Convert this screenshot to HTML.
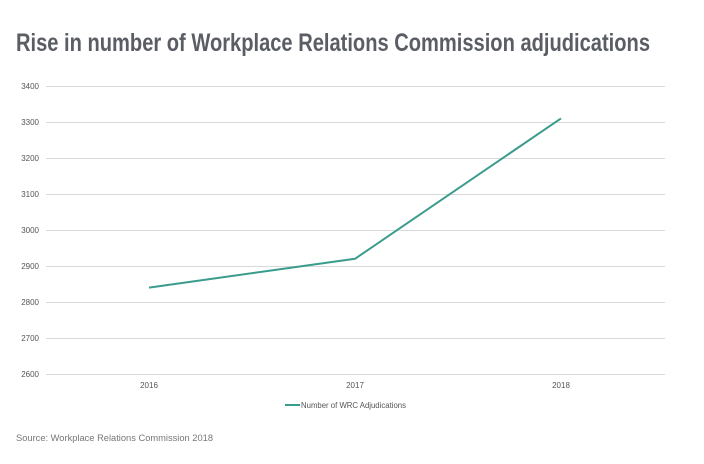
<!DOCTYPE html>
<html><head><style>body{margin:0;background:#fff}svg{display:block}</style></head>
<body>
<svg width="704" height="464" xmlns="http://www.w3.org/2000/svg" font-family="Liberation Sans, sans-serif">
<text x="16" y="51" font-size="25" font-weight="bold" fill="#5a5e64" textLength="634" lengthAdjust="spacingAndGlyphs">Rise in number of Workplace Relations Commission adjudications</text>
<g stroke="#d9d9d9" stroke-width="1">
<line x1="46" x2="665" y1="86.5" y2="86.5"/>
<line x1="46" x2="665" y1="122.5" y2="122.5"/>
<line x1="46" x2="665" y1="158.5" y2="158.5"/>
<line x1="46" x2="665" y1="194.5" y2="194.5"/>
<line x1="46" x2="665" y1="230.5" y2="230.5"/>
<line x1="46" x2="665" y1="266.5" y2="266.5"/>
<line x1="46" x2="665" y1="302.5" y2="302.5"/>
<line x1="46" x2="665" y1="338.5" y2="338.5"/>
<line x1="46" x2="665" y1="374.5" y2="374.5"/>
</g>
<g font-size="8" fill="#555" text-anchor="end">
<text x="39" y="89">3400</text><text x="39" y="125">3300</text><text x="39" y="161">3200</text>
<text x="39" y="197">3100</text><text x="39" y="233">3000</text><text x="39" y="269">2900</text>
<text x="39" y="305">2800</text><text x="39" y="341">2700</text><text x="39" y="377">2600</text>
</g>
<g font-size="8" fill="#555" text-anchor="middle">
<text x="149" y="388">2016</text><text x="355" y="388">2017</text><text x="561" y="388">2018</text>
</g>
<polyline points="149,287.6 355,258.8 561,118.4" fill="none" stroke="#3a9c8c" stroke-width="2"/>
<line x1="285" x2="300" y1="405" y2="405" stroke="#3a9c8c" stroke-width="2"/>
<text x="301" y="408" font-size="8" fill="#555" textLength="105" lengthAdjust="spacingAndGlyphs">Number of WRC Adjudications</text>
<text x="16" y="441" font-size="9" fill="#777" textLength="197" lengthAdjust="spacingAndGlyphs">Source: Workplace Relations Commission 2018</text>
</svg>
</body></html>
